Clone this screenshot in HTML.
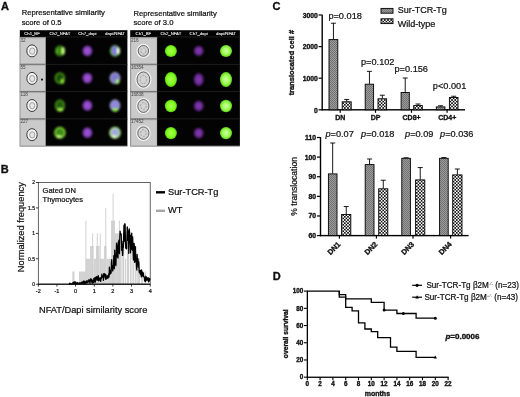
<!DOCTYPE html>
<html><head><meta charset="utf-8"><title>Figure</title>
<style>html,body{margin:0;padding:0;background:#fff;}svg{display:block;filter:blur(0.35px);}text{font-family:"Liberation Sans", sans-serif;}</style>
</head><body>
<svg width="520" height="397" viewBox="0 0 520 397">
<defs>
<filter id="b1" x="-30%" y="-30%" width="160%" height="160%"><feGaussianBlur stdDeviation="0.9"/></filter>
<filter id="b2" x="-30%" y="-30%" width="160%" height="160%"><feGaussianBlur stdDeviation="0.5"/></filter>
<filter id="b3" x="-30%" y="-30%" width="160%" height="160%"><feGaussianBlur stdDeviation="0.6"/></filter>
<radialGradient id="gB" cx="50%" cy="50%" r="50%"><stop offset="0" stop-color="#a4ff48"/><stop offset="0.7" stop-color="#80fa20"/><stop offset="1" stop-color="#58c810"/></radialGradient>
<radialGradient id="gP" cx="50%" cy="50%" r="50%"><stop offset="0" stop-color="#a258d8"/><stop offset="0.7" stop-color="#8a44c0"/><stop offset="1" stop-color="#5a2888"/></radialGradient>
<radialGradient id="gP2" cx="50%" cy="50%" r="50%"><stop offset="0" stop-color="#8a3eb6"/><stop offset="0.7" stop-color="#6a2a92"/><stop offset="1" stop-color="#3c1656"/></radialGradient>
<radialGradient id="gM" cx="50%" cy="50%" r="50%"><stop offset="0" stop-color="#d0ffa8"/><stop offset="0.6" stop-color="#9cff54"/><stop offset="1" stop-color="#60d018"/></radialGradient>
<pattern id="pS" width="2" height="2" patternUnits="userSpaceOnUse"><rect width="2" height="2" fill="#9c9c9c"/><rect width="1" height="1" fill="#727272"/><rect x="1" y="1" width="1" height="1" fill="#727272"/></pattern>
<pattern id="pW" width="3.2" height="3.2" patternUnits="userSpaceOnUse"><rect width="3.2" height="3.2" fill="#fff"/><rect width="1.6" height="1.6" fill="#111"/><rect x="1.6" y="1.6" width="1.6" height="1.6" fill="#111"/></pattern>
</defs>
<rect width="520" height="397" fill="#fff"/>
<g fill="#111">
<text x="1.0" y="9.5" font-size="11.00" font-weight="bold" text-anchor="start" stroke="#111" stroke-width="0.34">A</text>
<text x="0.8" y="173.3" font-size="11.00" font-weight="bold" text-anchor="start" stroke="#111" stroke-width="0.34">B</text>
<text x="272.6" y="10.0" font-size="11.00" font-weight="bold" text-anchor="start" stroke="#111" stroke-width="0.34">C</text>
<text x="272.8" y="279.8" font-size="11.00" font-weight="bold" text-anchor="start" stroke="#111" stroke-width="0.34">D</text>
<text x="21.7" y="15.4" font-size="7.65" font-weight="normal" text-anchor="start" stroke="#111" stroke-width="0.22">Representative similarity</text>
<text x="21.7" y="25.2" font-size="7.65" font-weight="normal" text-anchor="start" stroke="#111" stroke-width="0.22">score of 0.5</text>
<text x="133.5" y="15.6" font-size="7.65" font-weight="normal" text-anchor="start" stroke="#111" stroke-width="0.22">Representative similarity</text>
<text x="133.5" y="25.3" font-size="7.65" font-weight="normal" text-anchor="start" stroke="#111" stroke-width="0.22">score of 3.0</text>
<rect x="19.8" y="30.2" width="107.6" height="116.0" fill="#030303"/>
<rect x="19.8" y="37.0" width="26.0" height="109.2" fill="#b2b2b2"/>
<rect x="21.0" y="38.40" width="24.0" height="25.10" fill="#cacaca"/>
<rect x="21.0" y="65.70" width="24.0" height="25.10" fill="#cacaca"/>
<rect x="21.0" y="93.00" width="24.0" height="25.10" fill="#cacaca"/>
<rect x="21.0" y="120.30" width="24.0" height="25.10" fill="#cacaca"/>
<rect x="45.8" y="63.90" width="81.6" height="0.8" fill="#242424"/>
<rect x="19.8" y="63.80" width="26.0" height="1.0" fill="#707070"/>
<rect x="45.8" y="91.20" width="81.6" height="0.8" fill="#242424"/>
<rect x="19.8" y="91.10" width="26.0" height="1.0" fill="#707070"/>
<rect x="45.8" y="118.50" width="81.6" height="0.8" fill="#242424"/>
<rect x="19.8" y="118.40" width="26.0" height="1.0" fill="#707070"/>
<rect x="45.8" y="36.6" width="81.6" height="0.7" fill="#2a2a2a"/>
<rect x="19.8" y="36.9" width="26.0" height="0.8" fill="#8a8a8a"/>
<rect x="19.8" y="145.7" width="107.6" height="0.9" fill="#a0a0a0"/>
<text x="32.0" y="35.1" font-size="4.25" font-weight="normal" text-anchor="middle" fill="#e8e8e8" stroke="#e8e8e8" stroke-width="0.12">Ch1_BF</text>
<text x="59.9" y="35.1" font-size="4.25" font-weight="normal" text-anchor="middle" fill="#e8e8e8" stroke="#e8e8e8" stroke-width="0.12">Ch2_NFAT</text>
<text x="87.4" y="35.1" font-size="4.25" font-weight="normal" text-anchor="middle" fill="#e8e8e8" stroke="#e8e8e8" stroke-width="0.12">Ch7_dapi</text>
<text x="115.0" y="35.1" font-size="4.25" font-weight="normal" text-anchor="middle" fill="#e8e8e8" stroke="#e8e8e8" stroke-width="0.12">dapi/NFAT</text>
<text x="20.5" y="41.5" font-size="4.60" font-weight="normal" text-anchor="start" fill="#444">32</text>
<g filter="url(#b2)"><ellipse cx="32.0" cy="50.9" rx="5.2" ry="6.0" fill="#f4f4f4" stroke="#3a3a3a" stroke-width="1"/><ellipse cx="32.2" cy="51.1" rx="2.6" ry="3.2" fill="#e6e6e6" stroke="#808080" stroke-width="0.7"/></g>
<g filter="url(#b1)"><ellipse cx="59.9" cy="50.9" rx="5.0" ry="5.6" fill="#2f7a10"/><ellipse cx="63.1" cy="50.9" rx="1.7" ry="3.8" fill="#c4ff78"/><ellipse cx="57.3" cy="50.9" rx="1.0" ry="3.4" fill="#5cb020"/></g>
<g filter="url(#b1)"><ellipse cx="87.4" cy="50.9" rx="5.0" ry="5.4" fill="url(#gP)"/></g>
<g filter="url(#b1)"><ellipse cx="115.0" cy="50.9" rx="5.2" ry="5.8" fill="#5aa828"/><ellipse cx="114.6" cy="50.6" rx="2.8" ry="4.8" fill="#8478dc"/><ellipse cx="118.4" cy="50.9" rx="1.6" ry="3.4" fill="#e6ffd6"/></g>
<text x="20.5" y="68.8" font-size="4.60" font-weight="normal" text-anchor="start" fill="#444">55</text>
<g filter="url(#b2)"><ellipse cx="32.0" cy="78.4" rx="5.2" ry="6.0" fill="#f4f4f4" stroke="#3a3a3a" stroke-width="1"/><ellipse cx="32.2" cy="78.6" rx="2.6" ry="3.2" fill="#e6e6e6" stroke="#808080" stroke-width="0.7"/></g>
<circle cx="42.0" cy="79.6" r="1.1" fill="#1a1a1a" filter="url(#b2)"/>
<g filter="url(#b1)"><ellipse cx="59.9" cy="78.1" rx="4.6" ry="5.2" fill="#1c4a08" stroke="#4c9a1c" stroke-width="1.4"/><ellipse cx="62.5" cy="81.5" rx="1.8" ry="2.4" fill="#8ce034"/></g>
<g filter="url(#b1)"><ellipse cx="87.4" cy="78.1" rx="5.0" ry="5.4" fill="url(#gP)"/></g>
<g filter="url(#b1)"><ellipse cx="115.0" cy="78.1" rx="4.8" ry="5.4" fill="#8078cc" stroke="#a8a8d8" stroke-width="1.2"/><ellipse cx="117.6" cy="81.7" rx="1.9" ry="2.4" fill="#a8f060"/></g>
<text x="20.5" y="96.1" font-size="4.60" font-weight="normal" text-anchor="start" fill="#444">118</text>
<g filter="url(#b2)"><ellipse cx="32.0" cy="105.5" rx="5.2" ry="6.0" fill="#f4f4f4" stroke="#3a3a3a" stroke-width="1"/><ellipse cx="32.2" cy="105.7" rx="2.6" ry="3.2" fill="#e6e6e6" stroke="#808080" stroke-width="0.7"/></g>
<g filter="url(#b1)"><ellipse cx="59.9" cy="105.5" rx="4.4" ry="5.4" fill="#245c0c" stroke="#4c9a1c" stroke-width="1.4"/><ellipse cx="60.3" cy="109.7" rx="3.0" ry="1.6" fill="#a0f048"/></g>
<g filter="url(#b1)"><ellipse cx="87.4" cy="105.5" rx="5.0" ry="5.4" fill="url(#gP)"/></g>
<g filter="url(#b1)"><ellipse cx="115.0" cy="105.5" rx="4.8" ry="5.6" fill="#9088dc" stroke="#a8b0d8" stroke-width="1"/><ellipse cx="115.2" cy="109.7" rx="3.2" ry="1.8" fill="#8ce838"/></g>
<text x="20.5" y="123.4" font-size="4.60" font-weight="normal" text-anchor="start" fill="#444">227</text>
<g filter="url(#b2)"><ellipse cx="32.0" cy="134.7" rx="5.2" ry="6.0" fill="#f4f4f4" stroke="#3a3a3a" stroke-width="1"/><ellipse cx="32.2" cy="134.9" rx="2.6" ry="3.2" fill="#e6e6e6" stroke="#808080" stroke-width="0.7"/></g>
<g filter="url(#b1)"><ellipse cx="59.9" cy="132.7" rx="5.0" ry="5.2" fill="#3a8a14" stroke="#86dc38" stroke-width="1.5"/><ellipse cx="58.9" cy="136.7" rx="2.6" ry="1.4" fill="#c4ff80"/></g>
<g filter="url(#b1)"><ellipse cx="87.4" cy="132.7" rx="5.0" ry="5.4" fill="url(#gP)"/></g>
<g filter="url(#b1)"><ellipse cx="115.0" cy="132.7" rx="5.0" ry="5.2" fill="#a4a8dc" stroke="#a8e880" stroke-width="1.6"/><ellipse cx="114.0" cy="136.7" rx="2.6" ry="1.4" fill="#e0ffc8"/></g>
<rect x="130.2" y="30.2" width="109.7" height="116.0" fill="#030303"/>
<rect x="130.2" y="37.0" width="26.9" height="109.2" fill="#b2b2b2"/>
<rect x="131.4" y="38.40" width="24.9" height="25.10" fill="#cacaca"/>
<rect x="131.4" y="65.70" width="24.9" height="25.10" fill="#cacaca"/>
<rect x="131.4" y="93.00" width="24.9" height="25.10" fill="#cacaca"/>
<rect x="131.4" y="120.30" width="24.9" height="25.10" fill="#cacaca"/>
<rect x="157.1" y="63.90" width="82.8" height="0.8" fill="#242424"/>
<rect x="130.2" y="63.80" width="26.9" height="1.0" fill="#707070"/>
<rect x="157.1" y="91.20" width="82.8" height="0.8" fill="#242424"/>
<rect x="130.2" y="91.10" width="26.9" height="1.0" fill="#707070"/>
<rect x="157.1" y="118.50" width="82.8" height="0.8" fill="#242424"/>
<rect x="130.2" y="118.40" width="26.9" height="1.0" fill="#707070"/>
<rect x="157.1" y="36.6" width="82.8" height="0.7" fill="#2a2a2a"/>
<rect x="130.2" y="36.9" width="26.9" height="0.8" fill="#8a8a8a"/>
<rect x="130.2" y="145.7" width="109.7" height="0.9" fill="#a0a0a0"/>
<text x="143.4" y="35.1" font-size="4.25" font-weight="normal" text-anchor="middle" fill="#e8e8e8" stroke="#e8e8e8" stroke-width="0.12">Ch1_BF</text>
<text x="170.9" y="35.1" font-size="4.25" font-weight="normal" text-anchor="middle" fill="#e8e8e8" stroke="#e8e8e8" stroke-width="0.12">Ch2_NFAT</text>
<text x="198.7" y="35.1" font-size="4.25" font-weight="normal" text-anchor="middle" fill="#e8e8e8" stroke="#e8e8e8" stroke-width="0.12">Ch7_dapi</text>
<text x="226.0" y="35.1" font-size="4.25" font-weight="normal" text-anchor="middle" fill="#e8e8e8" stroke="#e8e8e8" stroke-width="0.12">dapi/NFAT</text>
<text x="130.9" y="41.5" font-size="4.60" font-weight="normal" text-anchor="start" fill="#444">216</text>
<g filter="url(#b2)"><ellipse cx="143.4" cy="50.9" rx="6.1" ry="6.3" fill="none" stroke="#f4f4f4" stroke-width="1.6"/><ellipse cx="143.4" cy="50.9" rx="5.2" ry="5.4" fill="#d4d4d4" stroke="#444" stroke-width="0.8"/><ellipse cx="143.4" cy="50.9" rx="2.6" ry="3.0" fill="none" stroke="#8a8a8a" stroke-width="0.7" stroke-dasharray="2 1.2"/></g>
<g filter="url(#b3)"><ellipse cx="170.9" cy="50.9" rx="6.0" ry="6.0" fill="url(#gB)"/></g>
<g filter="url(#b1)"><ellipse cx="198.7" cy="50.9" rx="5.0" ry="5.2" fill="url(#gP2)"/></g>
<g filter="url(#b3)"><ellipse cx="226.0" cy="50.9" rx="6.0" ry="6.0" fill="url(#gM)"/></g>
<text x="130.9" y="68.8" font-size="4.60" font-weight="normal" text-anchor="start" fill="#444">16354</text>
<g filter="url(#b2)"><ellipse cx="143.4" cy="79.5" rx="7.3" ry="8.5" fill="none" stroke="#f4f4f4" stroke-width="1.6"/><ellipse cx="143.4" cy="79.5" rx="6.4" ry="7.6" fill="#d4d4d4" stroke="#444" stroke-width="0.8"/><ellipse cx="143.4" cy="79.5" rx="3.2" ry="4.2" fill="none" stroke="#8a8a8a" stroke-width="0.7" stroke-dasharray="2 1.2"/></g>
<g filter="url(#b3)"><ellipse cx="170.9" cy="79.5" rx="6.0" ry="7.4" fill="url(#gB)"/></g>
<g filter="url(#b1)"><ellipse cx="198.7" cy="79.5" rx="5.0" ry="6.6" fill="url(#gP2)"/></g>
<g filter="url(#b3)"><ellipse cx="226.0" cy="79.5" rx="6.0" ry="7.4" fill="url(#gM)"/></g>
<text x="130.9" y="96.1" font-size="4.60" font-weight="normal" text-anchor="start" fill="#444">16838</text>
<g filter="url(#b2)"><ellipse cx="143.4" cy="106.0" rx="6.5" ry="7.3" fill="none" stroke="#f4f4f4" stroke-width="1.6"/><ellipse cx="143.4" cy="106.0" rx="5.6" ry="6.4" fill="#d4d4d4" stroke="#444" stroke-width="0.8"/><ellipse cx="143.4" cy="106.0" rx="2.8" ry="3.5" fill="none" stroke="#8a8a8a" stroke-width="0.7" stroke-dasharray="2 1.2"/></g>
<g filter="url(#b3)"><ellipse cx="170.9" cy="106.0" rx="6.0" ry="6.2" fill="url(#gB)"/></g>
<g filter="url(#b1)"><ellipse cx="198.7" cy="106.0" rx="5.0" ry="5.4" fill="url(#gP2)"/></g>
<g filter="url(#b3)"><ellipse cx="226.0" cy="106.0" rx="6.0" ry="6.2" fill="url(#gM)"/></g>
<text x="130.9" y="123.4" font-size="4.60" font-weight="normal" text-anchor="start" fill="#444">17452</text>
<g filter="url(#b2)"><ellipse cx="143.4" cy="133.1" rx="6.5" ry="7.1" fill="none" stroke="#f4f4f4" stroke-width="1.6"/><ellipse cx="143.4" cy="133.1" rx="5.6" ry="6.2" fill="#d4d4d4" stroke="#444" stroke-width="0.8"/><ellipse cx="143.4" cy="133.1" rx="2.8" ry="3.4" fill="none" stroke="#8a8a8a" stroke-width="0.7" stroke-dasharray="2 1.2"/></g>
<g filter="url(#b3)"><ellipse cx="170.9" cy="133.1" rx="6.0" ry="6.2" fill="url(#gB)"/></g>
<g filter="url(#b1)"><ellipse cx="198.7" cy="133.1" rx="5.0" ry="5.4" fill="url(#gP2)"/></g>
<g filter="url(#b3)"><ellipse cx="226.0" cy="133.1" rx="6.0" ry="6.2" fill="url(#gM)"/></g>
<g fill="#d3d3d3"><rect x="72.30" y="271.49" width="2.20" height="12.71"/><rect x="79.00" y="271.49" width="6.80" height="12.71"/><rect x="85.80" y="258.77" width="4.20" height="25.43"/><rect x="90.00" y="246.06" width="3.60" height="38.14"/><rect x="93.60" y="258.77" width="2.40" height="25.43"/><rect x="96.00" y="246.06" width="3.50" height="38.14"/><rect x="99.50" y="258.77" width="4.50" height="25.43"/><rect x="104.00" y="246.06" width="2.50" height="38.14"/><rect x="106.50" y="258.77" width="4.50" height="25.43"/><rect x="111.00" y="220.64" width="4.00" height="63.56"/><rect x="115.00" y="233.35" width="4.50" height="50.85"/><rect x="119.50" y="246.06" width="2.10" height="38.14"/><rect x="122.40" y="246.06" width="1.80" height="38.14"/><rect x="124.90" y="258.77" width="1.30" height="25.43"/><rect x="126.90" y="246.06" width="2.10" height="38.14"/><rect x="129.80" y="246.06" width="1.80" height="38.14"/><rect x="132.40" y="258.77" width="1.60" height="25.43"/><rect x="134.70" y="246.06" width="1.90" height="38.14"/><rect x="137.20" y="258.77" width="2.80" height="25.43"/><rect x="141.00" y="271.49" width="2.00" height="12.71"/><rect x="144.60" y="271.49" width="1.40" height="12.71"/></g>
<g fill="#cdcdcd"><rect x="85.45" y="220.64" width="0.9" height="63.56"/><rect x="92.25" y="233.35" width="0.9" height="50.85"/><rect x="96.75" y="233.35" width="0.9" height="50.85"/><rect x="99.75" y="233.35" width="0.9" height="50.85"/><rect x="105.35" y="207.93" width="0.9" height="76.27"/><rect x="112.65" y="193.69" width="0.9" height="90.51"/><rect x="118.95" y="220.64" width="0.9" height="63.56"/><rect x="122.85" y="233.35" width="0.9" height="50.85"/><rect x="127.55" y="233.35" width="0.9" height="50.85"/></g>
<path d="M69.07,284.19 L69.37,284.20 L69.67,283.06 L69.97,284.20 L70.27,283.45 L70.56,284.04 L70.86,284.20 L71.16,283.54 L71.46,284.20 L71.76,283.79 L72.06,284.20 L72.35,284.20 L72.65,283.82 L72.95,282.42 L73.25,284.20 L73.55,284.20 L73.85,283.09 L74.15,281.97 L74.44,283.26 L74.74,283.88 L75.04,281.85 L75.34,284.20 L75.64,282.24 L75.94,284.20 L76.23,284.20 L76.53,284.20 L76.83,284.13 L77.13,282.33 L77.43,284.20 L77.73,283.13 L78.02,282.91 L78.32,283.84 L78.62,283.20 L78.92,284.20 L79.22,284.20 L79.52,284.20 L79.81,282.63 L80.11,283.52 L80.41,283.92 L80.71,282.89 L81.01,283.35 L81.31,283.89 L81.61,282.01 L81.90,282.33 L82.20,284.01 L82.50,282.72 L82.80,282.87 L83.10,281.47 L83.40,281.99 L83.69,283.67 L83.99,280.88 L84.29,284.20 L84.59,283.01 L84.89,281.58 L85.19,283.99 L85.48,282.55 L85.78,284.20 L86.08,281.67 L86.38,281.18 L86.68,281.92 L86.98,280.53 L87.27,282.91 L87.57,281.15 L87.87,281.51 L88.17,281.49 L88.47,281.97 L88.77,280.10 L89.07,279.50 L89.36,281.63 L89.66,280.62 L89.96,283.47 L90.26,280.23 L90.56,280.40 L90.86,278.54 L91.15,279.29 L91.45,281.96 L91.75,281.34 L92.05,279.74 L92.35,283.11 L92.65,280.65 L92.94,282.17 L93.24,282.37 L93.54,282.62 L93.84,278.49 L94.14,282.07 L94.44,281.30 L94.73,280.37 L95.03,277.41 L95.33,282.06 L95.63,279.74 L95.93,279.03 L96.23,276.85 L96.53,277.14 L96.82,276.74 L97.12,280.38 L97.42,279.42 L97.72,279.70 L98.02,276.17 L98.32,275.57 L98.61,280.86 L98.91,280.62 L99.21,280.17 L99.51,280.09 L99.81,278.28 L100.11,277.47 L100.40,279.67 L100.70,281.43 L101.00,278.41 L101.30,278.68 L101.60,277.16 L101.90,274.23 L102.19,276.03 L102.49,277.21 L102.79,276.32 L103.09,275.75 L103.39,280.39 L103.69,273.71 L103.99,274.47 L104.28,273.53 L104.58,273.93 L104.88,277.04 L105.18,276.80 L105.48,279.11 L105.78,274.37 L106.07,279.12 L106.37,278.89 L106.67,277.40 L106.97,277.59 L107.27,275.65 L107.57,278.14 L107.86,278.41 L108.16,276.61 L108.46,276.81 L108.76,273.69 L109.06,277.00 L109.36,267.07 L109.65,269.47 L109.95,274.48 L110.25,272.78 L110.55,271.09 L110.85,270.33 L111.15,273.01 L111.45,262.44 L111.74,259.56 L112.04,266.42 L112.34,265.46 L112.64,270.97 L112.94,270.15 L113.24,265.58 L113.53,266.21 L113.83,255.56 L114.13,266.71 L114.43,268.66 L114.73,250.22 L115.03,257.50 L115.32,264.39 L115.62,255.46 L115.92,265.64 L116.22,254.05 L116.52,243.05 L116.82,244.61 L117.11,247.52 L117.41,257.08 L117.71,253.79 L118.01,258.08 L118.31,241.97 L118.61,247.33 L118.91,240.03 L119.20,251.33 L119.50,253.65 L119.80,236.69 L120.10,231.02 L120.40,234.03 L120.70,234.68 L120.99,233.68 L121.29,235.40 L121.59,250.27 L121.89,241.09 L122.19,245.64 L122.49,255.37 L122.78,255.17 L123.08,247.13 L123.38,247.55 L123.68,233.73 L123.98,225.19 L124.28,241.13 L124.57,225.47 L124.87,223.74 L125.17,224.72 L125.47,243.50 L125.77,248.09 L126.07,247.90 L126.37,248.88 L126.66,248.68 L126.96,235.42 L127.26,226.80 L127.56,228.88 L127.86,240.46 L128.16,235.26 L128.45,230.99 L128.75,253.47 L129.05,236.05 L129.35,228.89 L129.65,233.29 L129.95,234.82 L130.24,243.46 L130.54,252.76 L130.84,235.66 L131.14,249.38 L131.44,236.90 L131.74,233.05 L132.03,249.58 L132.33,250.17 L132.63,236.75 L132.93,243.48 L133.23,258.29 L133.53,260.03 L133.83,260.15 L134.12,243.43 L134.42,246.83 L134.72,262.46 L135.02,248.70 L135.32,246.69 L135.62,254.44 L135.91,261.48 L136.21,258.63 L136.51,267.23 L136.81,270.01 L137.11,254.40 L137.41,260.88 L137.70,263.83 L138.00,258.54 L138.30,266.99 L138.60,261.62 L138.90,263.26 L139.20,272.28 L139.49,272.40 L139.79,272.52 L140.09,273.75 L140.39,270.42 L140.69,274.64 L140.99,273.49 L141.29,276.94 L141.58,269.77 L141.88,275.64 L142.18,275.12 L142.48,274.45 L142.78,272.13 L143.08,276.63 L143.37,272.94 L143.67,276.63 L143.97,276.69 L144.27,277.03 L144.57,281.00 L144.87,278.11 L145.16,280.14 L145.46,281.54 L145.76,276.20 L146.06,280.63 L146.36,278.75 L146.66,277.24 L146.95,278.48 L147.25,280.09 L147.55,278.99 L147.85,278.89 L148.15,277.61 L148.45,281.87 L148.75,279.25 L149.04,281.22 L149.34,281.17 L149.64,278.44 L149.94,280.09" fill="none" stroke="#000" stroke-width="1.25" stroke-linejoin="round"/>
<rect x="38.3" y="182.5" width="111.9" height="101.7" fill="none" stroke="#222" stroke-width="0.7"/>
<rect x="38.3" y="283.6" width="111.9" height="1.2" fill="#111"/>
<rect x="37.90" y="284.2" width="0.8" height="2.4" fill="#111"/>
<text x="38.3" y="292.8" font-size="5.50" font-weight="normal" text-anchor="middle" stroke="#111" stroke-width="0.22">-2</text>
<rect x="56.55" y="284.2" width="0.8" height="2.4" fill="#111"/>
<text x="56.9" y="292.8" font-size="5.50" font-weight="normal" text-anchor="middle" stroke="#111" stroke-width="0.22">-1</text>
<rect x="75.20" y="284.2" width="0.8" height="2.4" fill="#111"/>
<text x="75.6" y="292.8" font-size="5.50" font-weight="normal" text-anchor="middle" stroke="#111" stroke-width="0.22">0</text>
<rect x="93.85" y="284.2" width="0.8" height="2.4" fill="#111"/>
<text x="94.2" y="292.8" font-size="5.50" font-weight="normal" text-anchor="middle" stroke="#111" stroke-width="0.22">1</text>
<rect x="112.50" y="284.2" width="0.8" height="2.4" fill="#111"/>
<text x="112.9" y="292.8" font-size="5.50" font-weight="normal" text-anchor="middle" stroke="#111" stroke-width="0.22">2</text>
<rect x="131.15" y="284.2" width="0.8" height="2.4" fill="#111"/>
<text x="131.6" y="292.8" font-size="5.50" font-weight="normal" text-anchor="middle" stroke="#111" stroke-width="0.22">3</text>
<rect x="149.80" y="284.2" width="0.8" height="2.4" fill="#111"/>
<text x="150.2" y="292.8" font-size="5.50" font-weight="normal" text-anchor="middle" stroke="#111" stroke-width="0.22">4</text>
<rect x="35.90" y="283.80" width="2.4" height="0.8" fill="#111"/>
<text x="35.0" y="286.1" font-size="5.00" font-weight="normal" text-anchor="end" stroke="#111" stroke-width="0.22">0</text>
<rect x="35.90" y="258.38" width="2.4" height="0.8" fill="#111"/>
<text x="35.0" y="260.7" font-size="5.00" font-weight="normal" text-anchor="end" stroke="#111" stroke-width="0.22">0.5</text>
<rect x="35.90" y="232.95" width="2.4" height="0.8" fill="#111"/>
<text x="35.0" y="235.2" font-size="5.00" font-weight="normal" text-anchor="end" stroke="#111" stroke-width="0.22">1</text>
<rect x="35.90" y="207.53" width="2.4" height="0.8" fill="#111"/>
<text x="35.0" y="209.8" font-size="5.00" font-weight="normal" text-anchor="end" stroke="#111" stroke-width="0.22">1.5</text>
<rect x="35.90" y="182.10" width="2.4" height="0.8" fill="#111"/>
<text x="35.0" y="184.4" font-size="5.00" font-weight="normal" text-anchor="end" stroke="#111" stroke-width="0.22">2</text>
<text x="0.0" y="0.0" font-size="9.25" font-weight="normal" text-anchor="middle" stroke="#111" stroke-width="0.22" transform="translate(23.6,227.2) rotate(-90)">Normalized frequency</text>
<text x="39.0" y="313.2" font-size="9.25" font-weight="normal" text-anchor="start" stroke="#111" stroke-width="0.22">NFAT/Dapi similarity score</text>
<text x="42.6" y="192.6" font-size="7.50" font-weight="normal" text-anchor="start" stroke="#111" stroke-width="0.22">Gated DN</text>
<text x="42.6" y="201.6" font-size="7.50" font-weight="normal" text-anchor="start" stroke="#111" stroke-width="0.22">Thymocytes</text>
<rect x="156" y="191.1" width="9" height="2.4" fill="#000"/>
<text x="168.0" y="194.5" font-size="9.25" font-weight="normal" text-anchor="start" stroke="#111" stroke-width="0.22">Sur-TCR-Tg</text>
<rect x="156" y="209.6" width="9" height="2.4" fill="#a6a6a6"/>
<text x="168.0" y="213.2" font-size="9.25" font-weight="normal" text-anchor="start" stroke="#111" stroke-width="0.22">WT</text>
<rect x="321.5" y="14.6" width="1.4" height="95.9" fill="#000"/>
<rect x="321.5" y="109.1" width="143.5" height="1.4" fill="#000"/>
<rect x="318.6" y="109.20" width="3.2" height="1.2" fill="#000"/>
<text x="317.8" y="112.5" font-size="6.80" font-weight="bold" text-anchor="end" stroke="#111" stroke-width="0.34">0</text>
<rect x="318.6" y="77.60" width="3.2" height="1.2" fill="#000"/>
<text x="317.8" y="80.9" font-size="6.80" font-weight="bold" text-anchor="end" stroke="#111" stroke-width="0.34">1000</text>
<rect x="318.6" y="46.00" width="3.2" height="1.2" fill="#000"/>
<text x="317.8" y="49.3" font-size="6.80" font-weight="bold" text-anchor="end" stroke="#111" stroke-width="0.34">2000</text>
<rect x="318.6" y="14.40" width="3.2" height="1.2" fill="#000"/>
<text x="317.8" y="17.7" font-size="6.80" font-weight="bold" text-anchor="end" stroke="#111" stroke-width="0.34">3000</text>
<rect x="332.95" y="23.20" width="0.9" height="16.10" fill="#000"/>
<rect x="330.90" y="22.75" width="5" height="0.9" fill="#000"/>
<rect x="329.00" y="39.60" width="8.80" height="70.20" fill="url(#pS)" stroke="#000" stroke-width="0.9"/>
<rect x="346.25" y="99.40" width="0.9" height="2.10" fill="#000"/>
<rect x="344.20" y="98.95" width="5" height="0.9" fill="#000"/>
<rect x="342.20" y="101.80" width="9.00" height="8.00" fill="url(#pW)" stroke="#000" stroke-width="0.9"/>
<rect x="368.95" y="71.30" width="0.9" height="12.60" fill="#000"/>
<rect x="366.90" y="70.85" width="5" height="0.9" fill="#000"/>
<rect x="365.20" y="84.20" width="8.40" height="25.60" fill="url(#pS)" stroke="#000" stroke-width="0.9"/>
<rect x="381.85" y="95.20" width="0.9" height="3.30" fill="#000"/>
<rect x="379.80" y="94.75" width="5" height="0.9" fill="#000"/>
<rect x="378.00" y="98.80" width="8.60" height="11.00" fill="url(#pW)" stroke="#000" stroke-width="0.9"/>
<rect x="404.75" y="78.00" width="0.9" height="14.20" fill="#000"/>
<rect x="402.70" y="77.55" width="5" height="0.9" fill="#000"/>
<rect x="401.10" y="92.50" width="8.20" height="17.30" fill="url(#pS)" stroke="#000" stroke-width="0.9"/>
<rect x="417.55" y="104.00" width="0.9" height="1.30" fill="#000"/>
<rect x="415.50" y="103.55" width="5" height="0.9" fill="#000"/>
<rect x="413.70" y="105.60" width="8.60" height="4.20" fill="url(#pW)" stroke="#000" stroke-width="0.9"/>
<rect x="440.15" y="105.80" width="0.9" height="0.80" fill="#000"/>
<rect x="438.10" y="105.35" width="5" height="0.9" fill="#000"/>
<rect x="436.30" y="106.90" width="8.60" height="2.90" fill="url(#pS)" stroke="#000" stroke-width="0.9"/>
<rect x="453.25" y="96.20" width="0.9" height="1.00" fill="#000"/>
<rect x="451.20" y="95.75" width="5" height="0.9" fill="#000"/>
<rect x="449.40" y="97.50" width="8.60" height="12.30" fill="url(#pW)" stroke="#000" stroke-width="0.9"/>
<text x="340.3" y="120.4" font-size="7.00" font-weight="bold" text-anchor="middle" stroke="#111" stroke-width="0.34">DN</text>
<rect x="339.60" y="109.8" width="1.2" height="3" fill="#000"/>
<text x="375.6" y="120.4" font-size="7.00" font-weight="bold" text-anchor="middle" stroke="#111" stroke-width="0.34">DP</text>
<rect x="374.90" y="109.8" width="1.2" height="3" fill="#000"/>
<text x="411.6" y="120.4" font-size="7.00" font-weight="bold" text-anchor="middle" stroke="#111" stroke-width="0.34">CD8+</text>
<rect x="410.90" y="109.8" width="1.2" height="3" fill="#000"/>
<text x="447.2" y="120.4" font-size="7.00" font-weight="bold" text-anchor="middle" stroke="#111" stroke-width="0.34">CD4+</text>
<rect x="446.50" y="109.8" width="1.2" height="3" fill="#000"/>
<text x="328.4" y="19.0" font-size="9.20" font-weight="normal" text-anchor="start" stroke="#111" stroke-width="0.22">p=0.018</text>
<text x="361.0" y="64.5" font-size="9.20" font-weight="normal" text-anchor="start" stroke="#111" stroke-width="0.22">p=0.102</text>
<text x="394.5" y="71.5" font-size="9.20" font-weight="normal" text-anchor="start" stroke="#111" stroke-width="0.22">p=0.156</text>
<text x="432.8" y="88.5" font-size="9.20" font-weight="normal" text-anchor="start" stroke="#111" stroke-width="0.22">p&lt;0.001</text>
<text x="0.0" y="0.0" font-size="7.50" font-weight="bold" text-anchor="middle" stroke="#111" stroke-width="0.34" transform="translate(294.0,62.6) rotate(-90)">translocated cell #</text>
<rect x="381" y="8.4" width="12" height="4.8" fill="url(#pS)" stroke="#000" stroke-width="0.9"/>
<text x="397.7" y="13.3" font-size="9.00" font-weight="normal" text-anchor="start" stroke="#111" stroke-width="0.22">Sur-TCR-Tg</text>
<rect x="381" y="18.8" width="12" height="4.8" fill="url(#pW)" stroke="#000" stroke-width="0.9"/>
<text x="397.7" y="26.6" font-size="9.00" font-weight="normal" text-anchor="start" stroke="#111" stroke-width="0.22">Wild-type</text>
<rect x="319.8" y="137" width="1.4" height="99.3" fill="#000"/>
<rect x="319.8" y="234.9" width="148.8" height="1.4" fill="#000"/>
<rect x="316.9" y="235.00" width="3.2" height="1.2" fill="#000"/>
<text x="316.0" y="238.0" font-size="6.80" font-weight="bold" text-anchor="end" stroke="#111" stroke-width="0.34">60</text>
<rect x="316.9" y="215.38" width="3.2" height="1.2" fill="#000"/>
<text x="316.0" y="218.4" font-size="6.80" font-weight="bold" text-anchor="end" stroke="#111" stroke-width="0.34">70</text>
<rect x="316.9" y="195.76" width="3.2" height="1.2" fill="#000"/>
<text x="316.0" y="198.8" font-size="6.80" font-weight="bold" text-anchor="end" stroke="#111" stroke-width="0.34">80</text>
<rect x="316.9" y="176.14" width="3.2" height="1.2" fill="#000"/>
<text x="316.0" y="179.1" font-size="6.80" font-weight="bold" text-anchor="end" stroke="#111" stroke-width="0.34">90</text>
<rect x="316.9" y="156.52" width="3.2" height="1.2" fill="#000"/>
<text x="316.0" y="159.5" font-size="6.80" font-weight="bold" text-anchor="end" stroke="#111" stroke-width="0.34">100</text>
<rect x="316.9" y="136.90" width="3.2" height="1.2" fill="#000"/>
<text x="316.0" y="139.9" font-size="6.80" font-weight="bold" text-anchor="end" stroke="#111" stroke-width="0.34">110</text>
<rect x="332.25" y="143.00" width="0.9" height="30.60" fill="#000"/>
<rect x="330.20" y="142.55" width="5" height="0.9" fill="#000"/>
<rect x="328.40" y="173.90" width="8.60" height="61.70" fill="url(#pS)" stroke="#000" stroke-width="0.9"/>
<rect x="345.75" y="206.60" width="0.9" height="7.60" fill="#000"/>
<rect x="343.70" y="206.15" width="5" height="0.9" fill="#000"/>
<rect x="341.60" y="214.50" width="9.20" height="21.10" fill="url(#pW)" stroke="#000" stroke-width="0.9"/>
<rect x="369.15" y="159.00" width="0.9" height="5.30" fill="#000"/>
<rect x="367.10" y="158.55" width="5" height="0.9" fill="#000"/>
<rect x="365.20" y="164.60" width="8.80" height="71.00" fill="url(#pS)" stroke="#000" stroke-width="0.9"/>
<rect x="382.80" y="180.20" width="0.9" height="8.30" fill="#000"/>
<rect x="380.75" y="179.75" width="5" height="0.9" fill="#000"/>
<rect x="378.70" y="188.80" width="9.10" height="46.80" fill="url(#pW)" stroke="#000" stroke-width="0.9"/>
<rect x="405.65" y="157.80" width="0.9" height="0.20" fill="#000"/>
<rect x="403.60" y="157.35" width="5" height="0.9" fill="#000"/>
<rect x="401.80" y="158.30" width="8.60" height="77.30" fill="url(#pS)" stroke="#000" stroke-width="0.9"/>
<rect x="419.75" y="167.60" width="0.9" height="12.00" fill="#000"/>
<rect x="417.70" y="167.15" width="5" height="0.9" fill="#000"/>
<rect x="415.60" y="179.90" width="9.20" height="55.70" fill="url(#pW)" stroke="#000" stroke-width="0.9"/>
<rect x="443.45" y="157.60" width="0.9" height="0.40" fill="#000"/>
<rect x="441.40" y="157.15" width="5" height="0.9" fill="#000"/>
<rect x="439.60" y="158.30" width="8.60" height="77.30" fill="url(#pS)" stroke="#000" stroke-width="0.9"/>
<rect x="456.90" y="169.00" width="0.9" height="5.60" fill="#000"/>
<rect x="454.85" y="168.55" width="5" height="0.9" fill="#000"/>
<rect x="452.70" y="174.90" width="9.30" height="60.70" fill="url(#pW)" stroke="#000" stroke-width="0.9"/>
<rect x="338.80" y="235.6" width="1.2" height="3" fill="#000"/>
<text x="0.0" y="0.0" font-size="7.40" font-weight="bold" text-anchor="end" stroke="#111" stroke-width="0.34" transform="translate(341.0,244.9) rotate(-45)">DN1</text>
<rect x="375.80" y="235.6" width="1.2" height="3" fill="#000"/>
<text x="0.0" y="0.0" font-size="7.40" font-weight="bold" text-anchor="end" stroke="#111" stroke-width="0.34" transform="translate(378.0,244.9) rotate(-45)">DN2</text>
<rect x="412.40" y="235.6" width="1.2" height="3" fill="#000"/>
<text x="0.0" y="0.0" font-size="7.40" font-weight="bold" text-anchor="end" stroke="#111" stroke-width="0.34" transform="translate(414.6,244.9) rotate(-45)">DN3</text>
<rect x="450.00" y="235.6" width="1.2" height="3" fill="#000"/>
<text x="0.0" y="0.0" font-size="7.40" font-weight="bold" text-anchor="end" stroke="#111" stroke-width="0.34" transform="translate(452.2,244.9) rotate(-45)">DN4</text>
<text x="325.4" y="137.0" font-size="9.20" font-weight="normal" text-anchor="start" stroke="#111" stroke-width="0.22"><tspan font-style="italic">p</tspan>=0.07</text>
<text x="361.0" y="137.0" font-size="9.20" font-weight="normal" text-anchor="start" stroke="#111" stroke-width="0.22"><tspan font-style="italic">p</tspan>=0.018</text>
<text x="405.0" y="137.0" font-size="9.20" font-weight="normal" text-anchor="start" stroke="#111" stroke-width="0.22"><tspan font-style="italic">p</tspan>=0.09</text>
<text x="440.0" y="137.0" font-size="9.20" font-weight="normal" text-anchor="start" stroke="#111" stroke-width="0.22"><tspan font-style="italic">p</tspan>=0.036</text>
<text x="0.0" y="0.0" font-size="8.60" font-weight="normal" text-anchor="middle" stroke="#111" stroke-width="0.22" transform="translate(296.6,186.4) rotate(-90)">% translocation</text>
<rect x="306.7" y="290.6" width="1.3" height="87.2" fill="#000"/>
<rect x="306.7" y="376.6" width="142.0" height="1.3" fill="#000"/>
<rect x="303.9" y="376.65" width="3" height="1.1" fill="#000"/>
<text x="303.3" y="379.4" font-size="6.30" font-weight="bold" text-anchor="end" stroke="#111" stroke-width="0.34">0</text>
<rect x="303.9" y="359.43" width="3" height="1.1" fill="#000"/>
<text x="303.3" y="362.2" font-size="6.30" font-weight="bold" text-anchor="end" stroke="#111" stroke-width="0.34">20</text>
<rect x="303.9" y="342.21" width="3" height="1.1" fill="#000"/>
<text x="303.3" y="345.0" font-size="6.30" font-weight="bold" text-anchor="end" stroke="#111" stroke-width="0.34">40</text>
<rect x="303.9" y="324.99" width="3" height="1.1" fill="#000"/>
<text x="303.3" y="327.7" font-size="6.30" font-weight="bold" text-anchor="end" stroke="#111" stroke-width="0.34">60</text>
<rect x="303.9" y="307.77" width="3" height="1.1" fill="#000"/>
<text x="303.3" y="310.5" font-size="6.30" font-weight="bold" text-anchor="end" stroke="#111" stroke-width="0.34">80</text>
<rect x="303.9" y="290.55" width="3" height="1.1" fill="#000"/>
<text x="303.3" y="293.3" font-size="6.30" font-weight="bold" text-anchor="end" stroke="#111" stroke-width="0.34">100</text>
<rect x="306.75" y="377.2" width="1.1" height="3" fill="#000"/>
<text x="307.3" y="386.3" font-size="6.30" font-weight="bold" text-anchor="middle" stroke="#111" stroke-width="0.34">0</text>
<rect x="319.55" y="377.2" width="1.1" height="3" fill="#000"/>
<text x="320.1" y="386.3" font-size="6.30" font-weight="bold" text-anchor="middle" stroke="#111" stroke-width="0.34">2</text>
<rect x="332.35" y="377.2" width="1.1" height="3" fill="#000"/>
<text x="332.9" y="386.3" font-size="6.30" font-weight="bold" text-anchor="middle" stroke="#111" stroke-width="0.34">4</text>
<rect x="345.15" y="377.2" width="1.1" height="3" fill="#000"/>
<text x="345.7" y="386.3" font-size="6.30" font-weight="bold" text-anchor="middle" stroke="#111" stroke-width="0.34">6</text>
<rect x="357.95" y="377.2" width="1.1" height="3" fill="#000"/>
<text x="358.5" y="386.3" font-size="6.30" font-weight="bold" text-anchor="middle" stroke="#111" stroke-width="0.34">8</text>
<rect x="370.75" y="377.2" width="1.1" height="3" fill="#000"/>
<text x="371.3" y="386.3" font-size="6.30" font-weight="bold" text-anchor="middle" stroke="#111" stroke-width="0.34">10</text>
<rect x="383.55" y="377.2" width="1.1" height="3" fill="#000"/>
<text x="384.1" y="386.3" font-size="6.30" font-weight="bold" text-anchor="middle" stroke="#111" stroke-width="0.34">12</text>
<rect x="396.35" y="377.2" width="1.1" height="3" fill="#000"/>
<text x="396.9" y="386.3" font-size="6.30" font-weight="bold" text-anchor="middle" stroke="#111" stroke-width="0.34">14</text>
<rect x="409.15" y="377.2" width="1.1" height="3" fill="#000"/>
<text x="409.7" y="386.3" font-size="6.30" font-weight="bold" text-anchor="middle" stroke="#111" stroke-width="0.34">16</text>
<rect x="421.95" y="377.2" width="1.1" height="3" fill="#000"/>
<text x="422.5" y="386.3" font-size="6.30" font-weight="bold" text-anchor="middle" stroke="#111" stroke-width="0.34">18</text>
<rect x="434.75" y="377.2" width="1.1" height="3" fill="#000"/>
<text x="435.3" y="386.3" font-size="6.30" font-weight="bold" text-anchor="middle" stroke="#111" stroke-width="0.34">20</text>
<rect x="447.55" y="377.2" width="1.1" height="3" fill="#000"/>
<text x="448.1" y="386.3" font-size="6.30" font-weight="bold" text-anchor="middle" stroke="#111" stroke-width="0.34">22</text>
<path d="M307.30,291.10 H339.30 V294.54 H345.70 V298.85 H371.30 V302.29 H384.10 V310.04 H396.90 V313.49 H416.10 V318.22 H435.30" fill="none" stroke="#000" stroke-width="1.3"/>
<path d="M339.30,291.10 H339.30 V297.13 H345.70 V307.46 H352.10 V310.90 H358.50 V322.96 H364.90 V328.98 H371.30 V331.57 H377.70 V337.59 H390.50 V347.06 H396.90 V351.37 H416.10 V357.40 H435.30" fill="none" stroke="#000" stroke-width="1.3"/>
<circle cx="384.10" cy="310.04" r="1.5" fill="#000"/>
<circle cx="403.30" cy="313.49" r="1.5" fill="#000"/>
<circle cx="435.30" cy="318.22" r="1.5" fill="#000"/>
<path d="M435.30,355.50 l1.7,3 h-3.4z" fill="#000"/>
<text x="0.0" y="0.0" font-size="6.70" font-weight="bold" text-anchor="middle" stroke="#111" stroke-width="0.34" transform="translate(288.4,333.8) rotate(-90)">overall survival</text>
<text x="377.4" y="396.0" font-size="7.00" font-weight="bold" text-anchor="middle" stroke="#111" stroke-width="0.34">months</text>
<text x="445.4" y="338.8" font-size="8.00" font-weight="bold" text-anchor="start" stroke="#111" stroke-width="0.34"><tspan font-style="italic">p</tspan>=0.0006</text>
<rect x="412.2" y="284.7" width="9.8" height="1.2" fill="#000"/><circle cx="417.1" cy="285.3" r="1.6" fill="#000"/>
<rect x="412.2" y="296.6" width="9.8" height="1.2" fill="#000"/><path d="M417.1,295.2 l1.8,3.2 h-3.6z" fill="#000"/>
<text x="426.4" y="288.0" font-size="8.15" font-weight="normal" text-anchor="start" stroke="#111" stroke-width="0.22">Sur-TCR-Tg β2M<tspan font-size="4.4" dy="-2.8" stroke="none" fill="#444">-/-</tspan><tspan dy="2.8"> (n=23)</tspan></text>
<text x="424.4" y="299.8" font-size="8.15" font-weight="normal" text-anchor="start" stroke="#111" stroke-width="0.22">Sur-TCR-Tg β2M<tspan font-size="4.4" dy="-2.8" stroke="none" fill="#444">+/-</tspan><tspan dy="2.8"> (n=43)</tspan></text>
</g></svg></body></html>
